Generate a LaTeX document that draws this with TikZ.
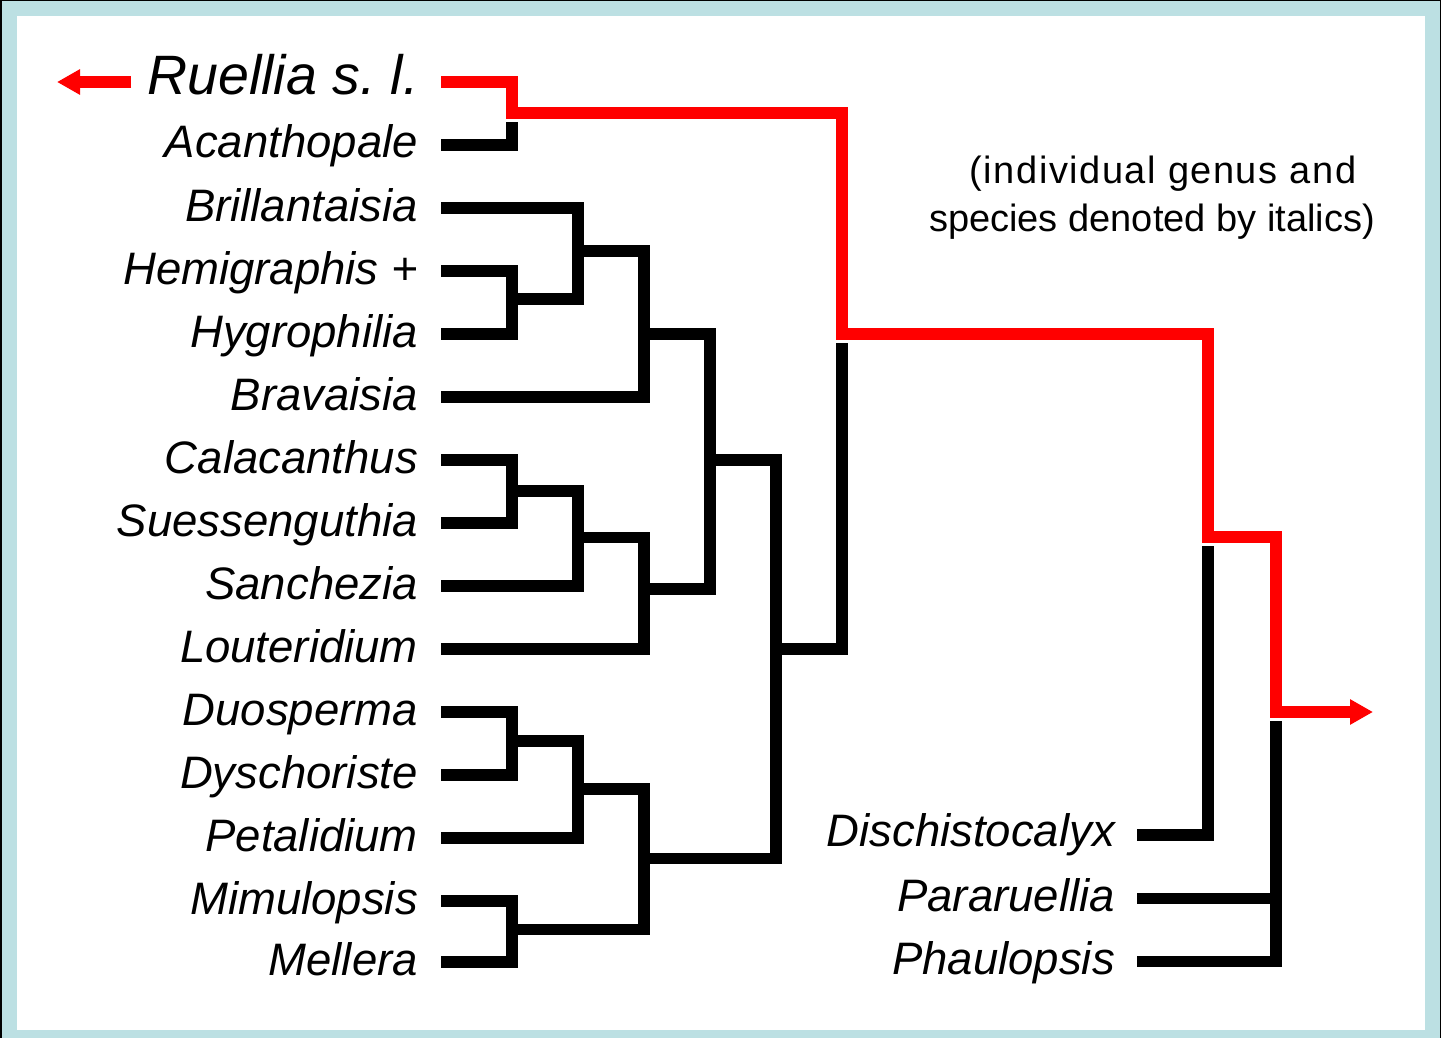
\documentclass[tikz,border=0pt]{standalone}
\usepackage{fontspec}
\setmainfont{Liberation Sans}
\usetikzlibrary{arrows.meta}
\definecolor{frameblue}{HTML}{BCE0E3}
\definecolor{treered}{HTML}{FF0000}
\begin{document}
\begin{tikzpicture}[x=1pt,y=-1pt,
  br/.style={line width=11.6pt, line join=miter, line cap=butt, draw=black},
  redbr/.style={br, draw=treered},
  lab/.style={font=\fontsize{45.5}{50}\selectfont\itshape, inner sep=0pt, anchor=base east},
  notetxt/.style={font=\fontsize{38}{48}\selectfont, inner sep=0pt, anchor=base},
  redtip/.style={-{Triangle[length=23pt,width=24pt]}}
]
% frame
\fill[black] (0,0) rectangle (1441,1038);
\fill[frameblue] (2,1) rectangle (1440,1038);
\fill[white] (17,16) rectangle (1425,1030);
\useasboundingbox (0,0) rectangle (1441,1038);

% leaf line starts (left)
\coordinate (a1) at (441,82);
\coordinate (a2) at (441,145);
\coordinate (a3) at (441,208);
\coordinate (a4) at (441,271);
\coordinate (a5) at (441,334);
\coordinate (a6) at (441,397);
\coordinate (a7) at (441,460);
\coordinate (a8) at (441,523);
\coordinate (a9) at (441,586);
\coordinate (a10) at (441,649);
\coordinate (a11) at (441,712);
\coordinate (a12) at (441,775);
\coordinate (a13) at (441,838);
\coordinate (a14) at (441,901);
\coordinate (a15) at (441,962);
% leaf line starts (right)
\coordinate (b1) at (1137,835);
\coordinate (b2) at (1137,898.5);
\coordinate (b3) at (1137,961.5);

% internal nodes
\coordinate (n0) at (512,113);
\coordinate (v0) at (512,122);
\coordinate (n1) at (512,299);
\coordinate (n2) at (578,251);
\coordinate (n3) at (644,334);
\coordinate (n4) at (512,491);
\coordinate (n5) at (578,537.5);
\coordinate (n6) at (644,589);
\coordinate (n7) at (710,460);
\coordinate (n8) at (512,741);
\coordinate (n9) at (578,789);
\coordinate (n10) at (512,929.5);
\coordinate (n11) at (644,858.5);
\coordinate (n12) at (776,649);
\coordinate (n13) at (842,343);
\coordinate (r1) at (842,334);
\coordinate (r2) at (1208,537);
\coordinate (r3) at (1276,712);
\coordinate (rtip) at (1373,712);
\coordinate (n14) at (1208,546);
\coordinate (n15) at (1276,721);
\coordinate (lstart) at (131,82);
\coordinate (ltip) at (57,82);

% labels left
\node[lab, font=\fontsize{55.5}{60}\selectfont\itshape] (t1) at (419,95) {Ruellia s.~l.};
\node[lab] (t2) at (418,158) {Acanthopale};
\node[lab] (t3) at (418,221) {Brillantaisia};
\node[lab] (t4) at (418,284) {Hemigraphis +};
\node[lab] (t5) at (418,347) {Hygrophilia};
\node[lab] (t6) at (418,410) {Bravaisia};
\node[lab] (t7) at (418,473) {Calacanthus};
\node[lab] (t8) at (418,536) {Suessenguthia};
\node[lab] (t9) at (418,599) {Sanchezia};
\node[lab] (t10) at (418,662) {Louteridium};
\node[lab] (t11) at (418,725) {Duosperma};
\node[lab] (t12) at (418,788) {Dyschoriste};
\node[lab] (t13) at (418,851) {Petalidium};
\node[lab] (t14) at (418,914) {Mimulopsis};
\node[lab] (t15) at (418,975) {Mellera};
% labels right
\node[lab] (u1) at (1115,846) {Dischistocalyx};
\node[lab] (u2) at (1115,911) {Pararuellia};
\node[lab] (u3) at (1115,974) {Phaulopsis};
% note
\node[notetxt] (note1) at (1163,183) {\addfontfeature{LetterSpace=4}(individual genus and};
\node[notetxt] (note2) at (1152,231) {species denoted by italics)};

% red lineage
\draw[redbr, redtip] (lstart) -- (ltip);
\draw[redbr, redtip] (a1) -| (n0) -| (r1) -| (r2) -| (r3) -- (rtip);

% black tree
\draw[br] (a2) -| (v0);
\draw[br] (a4) -| (n1) |- (a5);
\draw[br] (a3) -| (n2) |- (n1);
\draw[br] (n2) -| (n3) |- (a6);
\draw[br] (a7) -| (n4) |- (a8);
\draw[br] (n4) -| (n5) |- (a9);
\draw[br] (n5) -| (n6) |- (a10);
\draw[br] (n3) -| (n7) |- (n6);
\draw[br] (a11) -| (n8) |- (a12);
\draw[br] (n8) -| (n9) |- (a13);
\draw[br] (a14) -| (n10) |- (a15);
\draw[br] (n9) -| (n11) |- (n10);
\draw[br] (n7) -| (n12) |- (n11);
\draw[br] (n12) -| (n13);
\draw[br] (b1) -| (n14);
\draw[br] (b3) -| (n15);
\draw[br] (b2) -- (b2 -| n15);
\end{tikzpicture}
\end{document}
